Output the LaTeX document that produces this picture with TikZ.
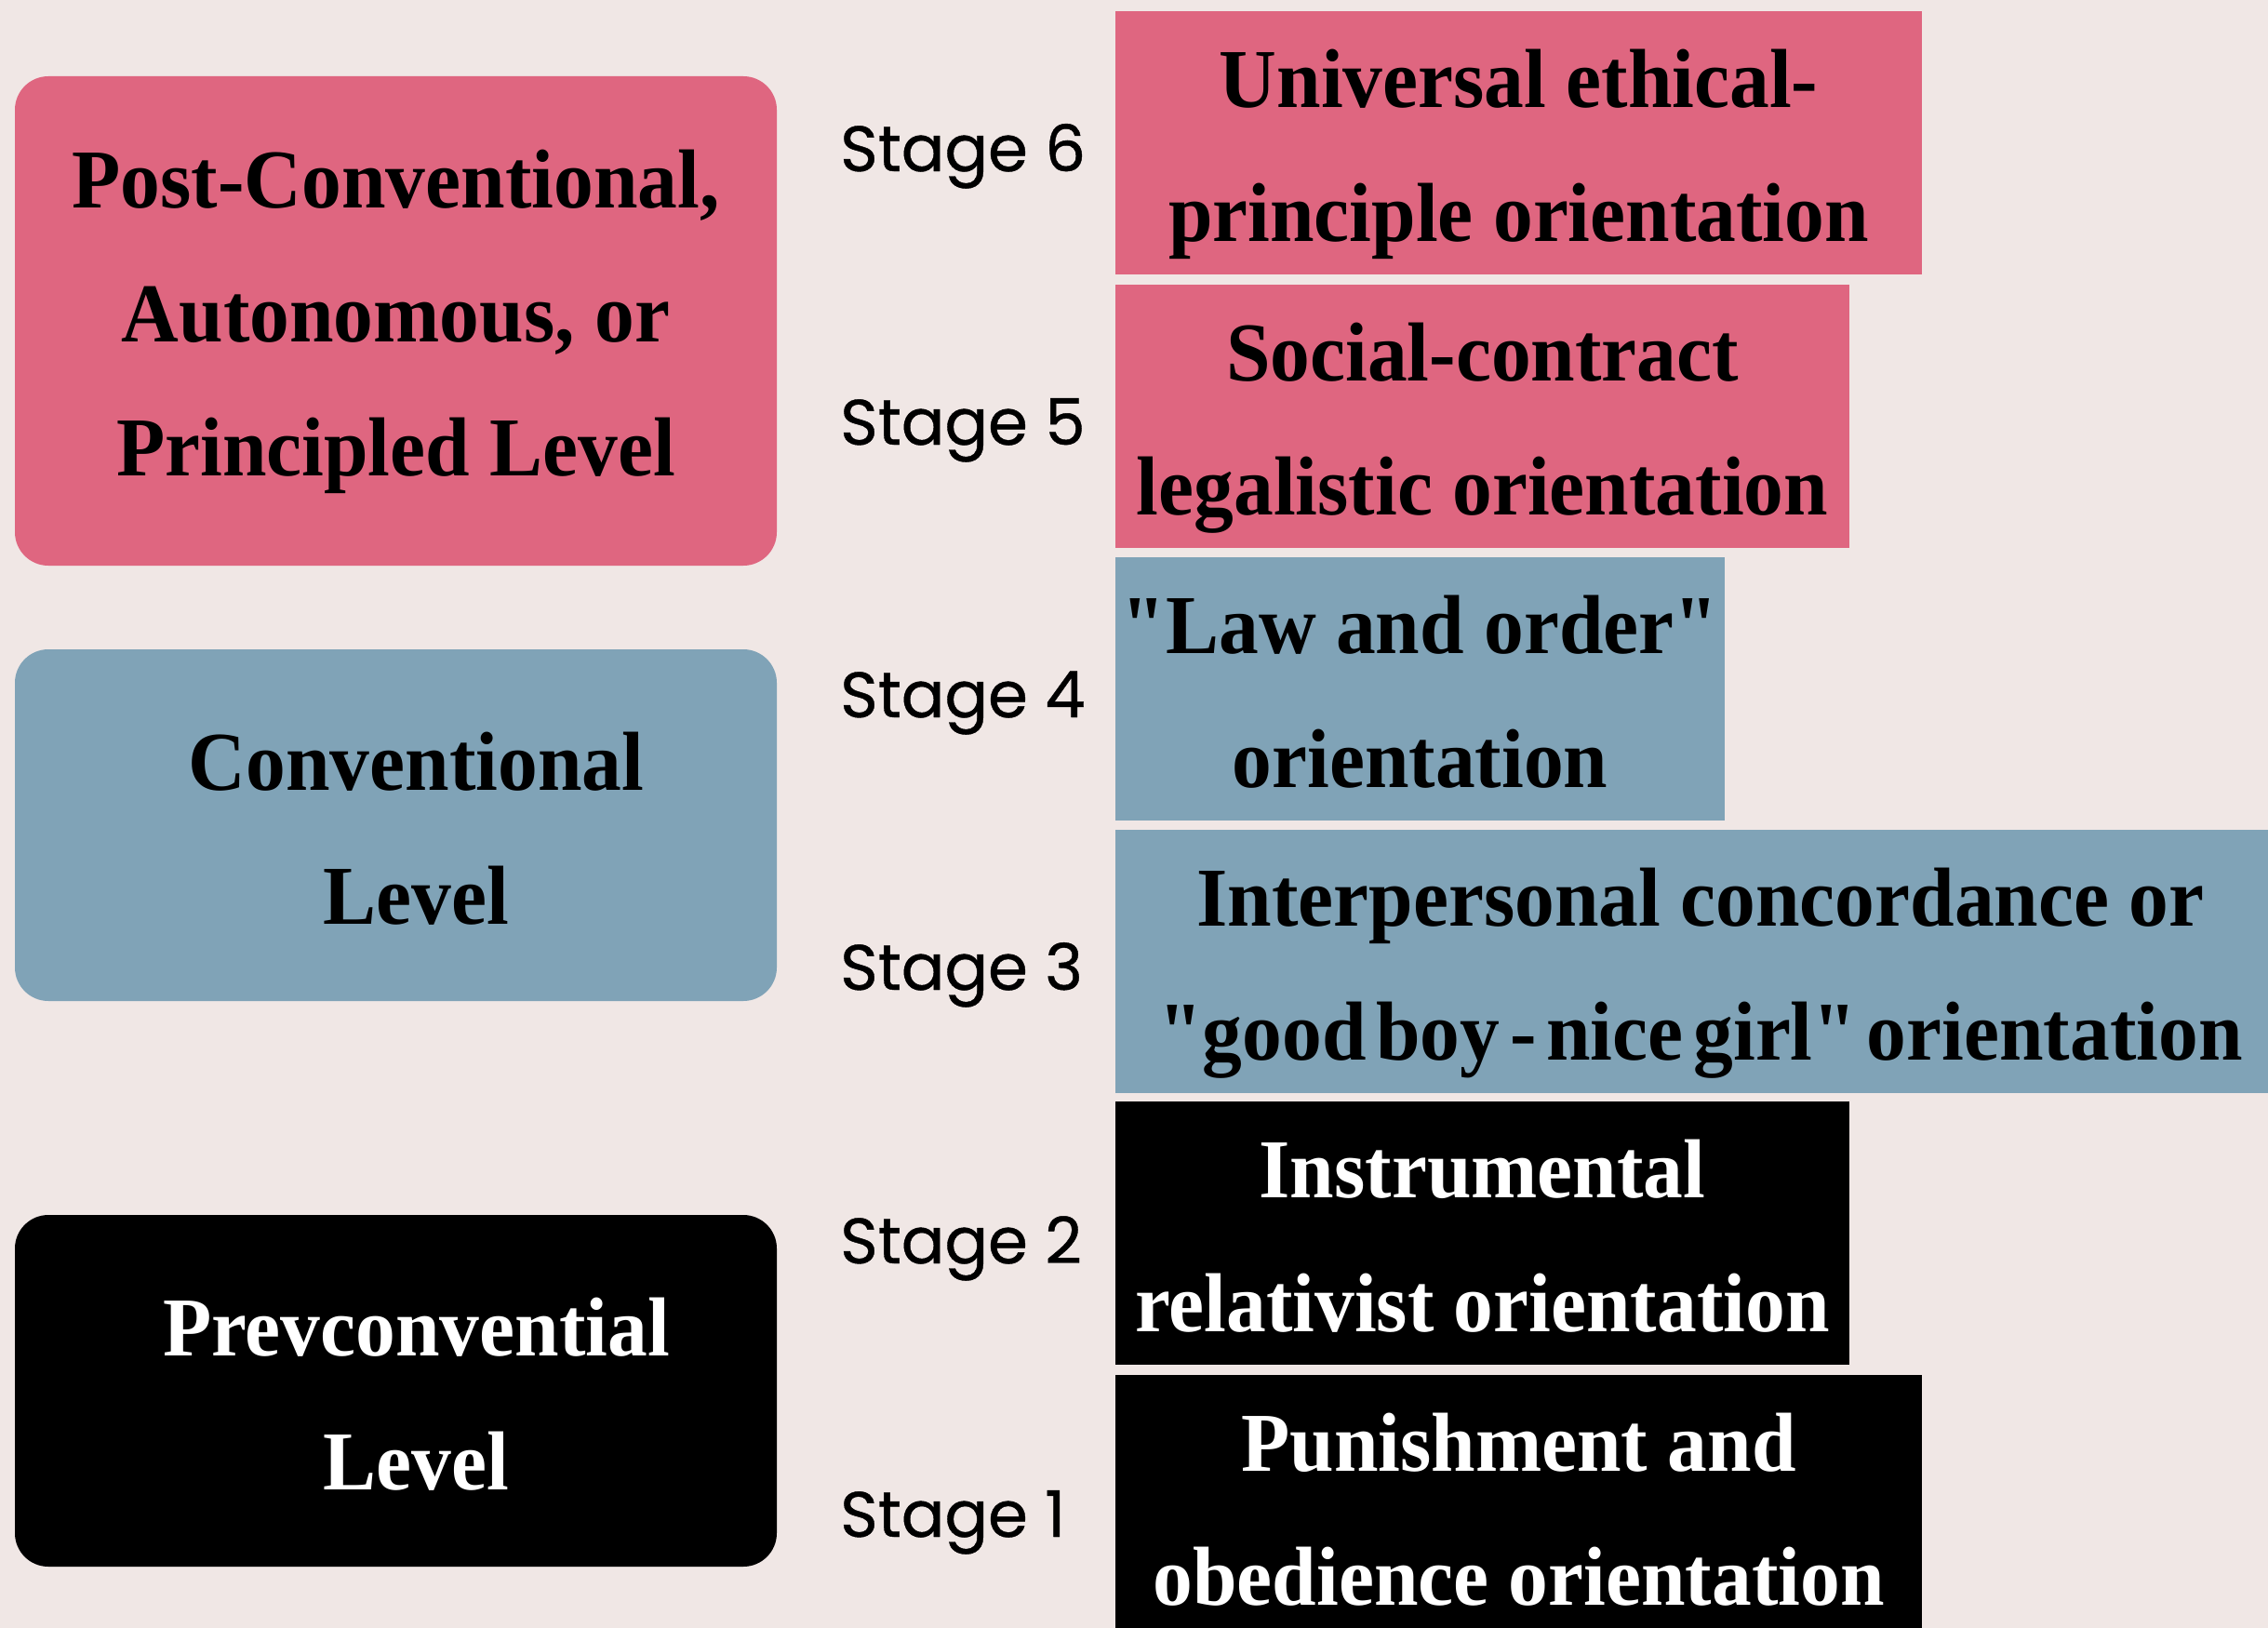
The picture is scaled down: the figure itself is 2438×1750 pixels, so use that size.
\documentclass[tikz,border=0pt]{standalone}
\usepackage{fontspec}
\setmainfont{Liberation Serif}
\newfontfamily\boxfont[FakeStretch=0.95]{Liberation Serif}
\newfontfamily\stagefont[FakeBold=0.6]{Poppins}

\definecolor{bgcol}{HTML}{F0E7E5}
\definecolor{postpink}{HTML}{DF6680}
\definecolor{convblue}{HTML}{80A3B7}

\tikzset{
  levelbox/.style={rectangle, rounded corners=36, inner sep=0pt, minimum width=819, minimum height=#1},
  boxtext/.style={align=center, inner sep=0pt, font={\boxfont\bfseries\fontsize{90}{144}\selectfont},
    execute at begin node={\rule{0pt}{66pt}}, execute at end node={\rule[-22pt]{0pt}{22pt}}},
  stagebox/.style={rectangle, inner sep=0pt, minimum height=283, minimum width=#1},
  stagelabel/.style={anchor=base west, inner sep=0pt, font={\stagefont\fontsize{69}{80}\selectfont}},
}

\begin{document}
\begin{tikzpicture}[x=1pt, y=-1pt]
\fill[bgcol] (0,0) rectangle (2438,1750);
\useasboundingbox (0,0) rectangle (2438,1750);

% levels
\node[levelbox=526, fill=postpink, label={[boxtext, yshift=-2]center:{Post-Conventional,\\Autonomous, or\\Principled Level}}] (post) at (425.5,345) {};
\node[levelbox=378, fill=convblue, label={[boxtext, xshift=22, yshift=-14]center:{Conventional\\Level}}] (conv) at (425.5,887) {};
\node[levelbox=378, fill=black, label={[boxtext, text=white, xshift=22, yshift=-14]center:{Prevconvential\\Level}}] (pre) at (425.5,1495) {};

% stages
\node[stagebox=867, fill=postpink, label={[boxtext, yshift=-14]center:{Universal ethical-\\principle orientation}}] (s6) at (1632.5,153.5) {};
\node[stagebox=789, fill=postpink, label={[boxtext, yshift=-14]center:{Social-contract\\legalistic orientation}}] (s5) at (1593.5,447.5) {};
\node[stagebox=655, fill=convblue, label={[boxtext, yshift=-14]center:{"Law and order"\\orientation}}] (s4) at (1526.5,740.5) {};
\node[stagebox=1258, fill=convblue, label={[boxtext, yshift=-14]center:{Interpersonal concordance or\\{\spaceskip=0.12em "good boy - nice girl" orientation}}}] (s3) at (1828,1033) {};
\node[stagebox=789, fill=black, label={[boxtext, text=white, yshift=-14]center:{Instrumental\\relativist orientation}}] (s2) at (1593.5,1325.5) {};
\node[stagebox=867, fill=black, label={[boxtext, text=white, yshift=-14]center:{Punishment and\\obedience orientation}}] (s1) at (1632.5,1619) {};

\node[stagelabel] (l6) at (903,184) {Stage 6};
\node[stagelabel] (l5) at (903,478) {Stage 5};
\node[stagelabel] (l4) at (903,771) {Stage 4};
\node[stagelabel] (l3) at (903,1064) {Stage 3};
\node[stagelabel] (l2) at (903,1358) {Stage 2};
\node[stagelabel] (l1) at (903,1652) {Stage 1};
\end{tikzpicture}
\end{document}
